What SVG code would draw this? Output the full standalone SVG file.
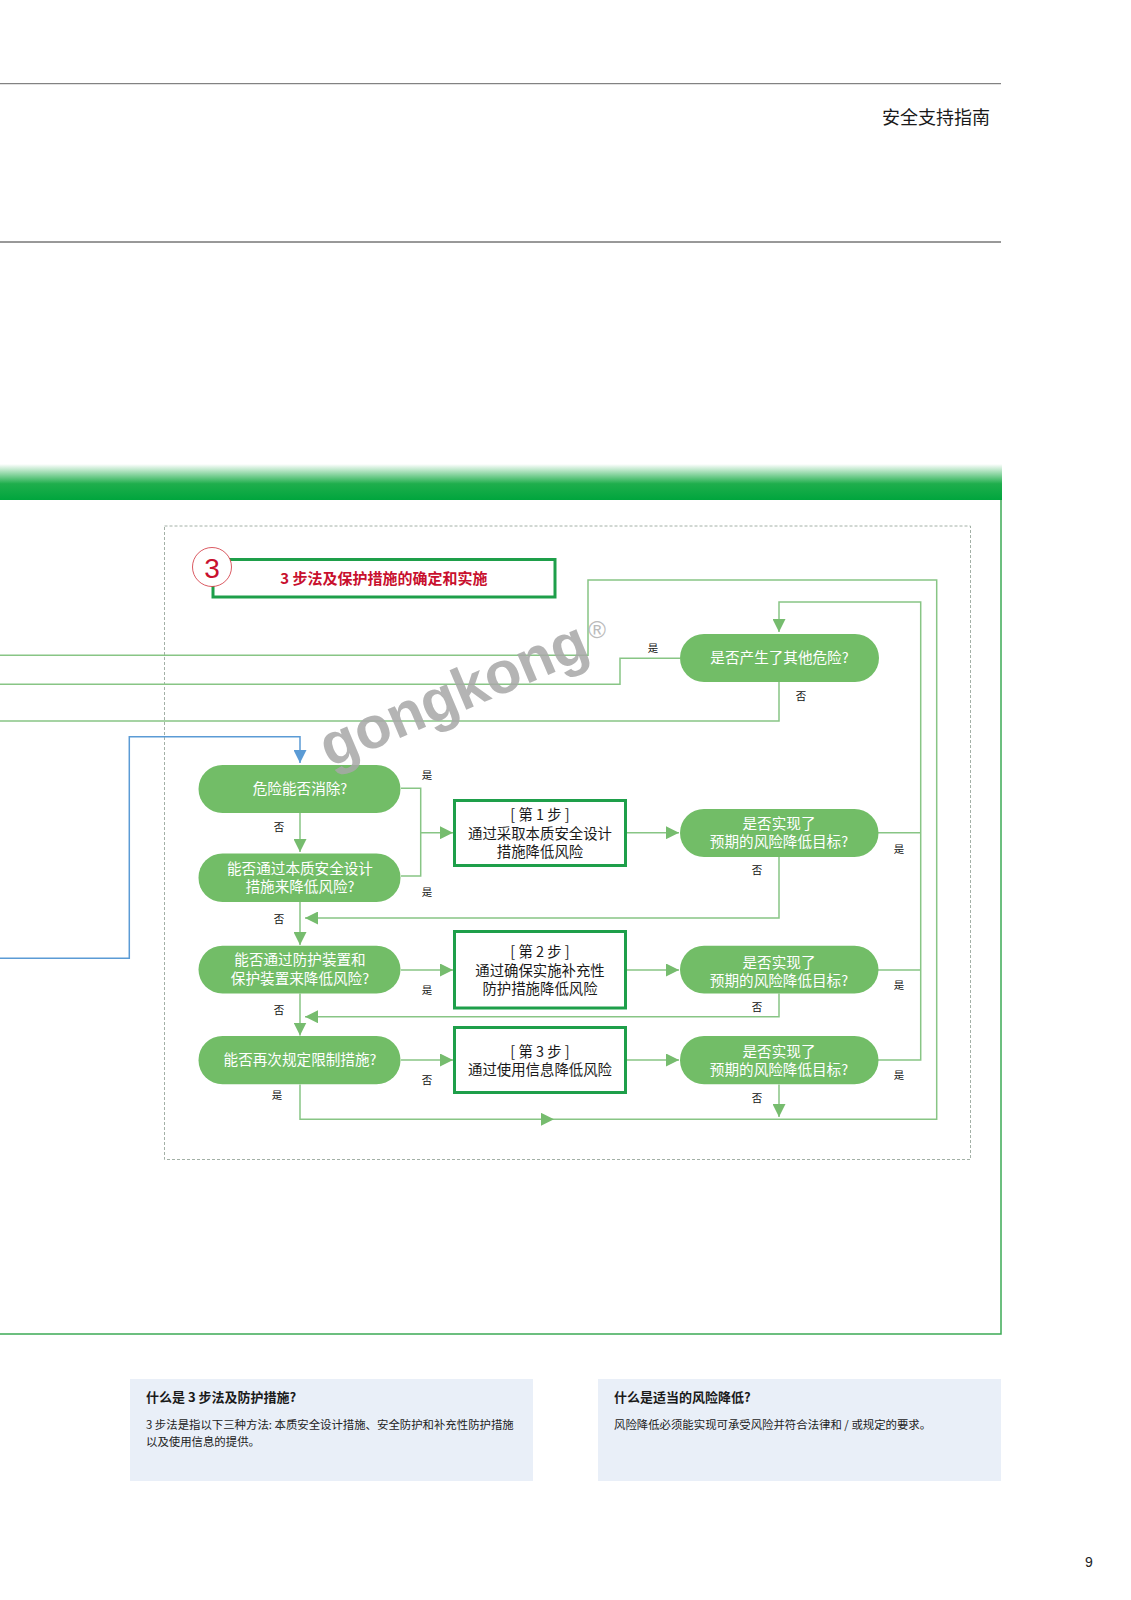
<svg xmlns="http://www.w3.org/2000/svg" width="1131" height="1600" viewBox="0 0 1131 1600">
<style>
.conn{fill:none;stroke:#88C585;stroke-width:1.5}
.blue{fill:none;stroke:#5B9BD5;stroke-width:1.5}
.pill{fill:#72BD67}
.box{fill:#fff;stroke:#1E9F4A;stroke-width:3}
.pt{font-family:"Noto Sans CJK SC","Noto Sans",sans-serif;font-size:14.6px;fill:#fff;text-anchor:middle}
.bt{font-family:"Noto Sans CJK SC","Noto Sans",sans-serif;font-size:14.4px;fill:#1a1a1a;text-anchor:middle}
.lbl{font-family:"Noto Sans CJK SC",sans-serif;font-size:10.5px;fill:#111;text-anchor:middle}
.info{fill:#E9EFF8}
.it{font-family:"Noto Sans CJK SC",sans-serif;font-size:13px;font-weight:bold;fill:#1a1a1a}
.ib{font-family:"Noto Sans CJK SC",sans-serif;font-size:11.4px;fill:#222}
</style>
<defs>
<linearGradient id="band" x1="0" y1="0" x2="0" y2="1">
<stop offset="0" stop-color="#ffffff"/>
<stop offset="0.55" stop-color="#1FAE4C"/>
<stop offset="1" stop-color="#00A53D"/>
</linearGradient>
<marker id="ah" markerUnits="userSpaceOnUse" markerWidth="13" markerHeight="13" refX="13" refY="6.5" orient="auto">
<path d="M0,0 L13,6.5 L0,13 z" fill="#76BC6E"/>
</marker>
<marker id="ahb" markerUnits="userSpaceOnUse" markerWidth="13" markerHeight="13" refX="13" refY="6.5" orient="auto">
<path d="M0,0 L13,6.5 L0,13 z" fill="#5B9BD5"/>
</marker>
</defs>
<rect width="1131" height="1600" fill="#fff"/>
<g id="page">
<line x1="0" y1="83.7" x2="1001" y2="83.7" stroke="#666" stroke-width="1"/>
<line x1="0" y1="242" x2="1001" y2="242" stroke="#333" stroke-width="1"/>
<text x="882" y="124" font-family="Noto Sans CJK SC,sans-serif" font-size="18" fill="#1a1a1a">安全支持指南</text>
<rect x="0" y="464" width="1002" height="36" fill="url(#band)"/>
<polyline points="1001,500 1001,1334 0,1334" fill="none" stroke="#3DAA55" stroke-width="1.5"/>
<rect x="164.5" y="526" width="806" height="633.5" fill="none" stroke="#A3B0A6" stroke-width="1" stroke-dasharray="3,2"/>
<text x="1089" y="1567" font-family="Liberation Sans,Arial,sans-serif" font-size="14" fill="#222" text-anchor="middle">9</text>
</g>
<g id="title">
<rect x="213" y="559.5" width="342" height="37.5" fill="#fff" stroke="#1E9F4A" stroke-width="3"/>
<circle cx="212" cy="567" r="19.5" fill="#fff" stroke="#D0303A" stroke-width="0.8"/>
<text x="212" y="577.5" font-family="Liberation Sans,Arial,sans-serif" font-size="28" fill="#C8102E" text-anchor="middle">3</text>
<text x="384" y="584" font-family="Noto Sans CJK SC,sans-serif" font-size="15" font-weight="bold" fill="#C8102E" text-anchor="middle">3 步法及保护措施的确定和实施</text>
</g>
<g id="connectors">
<path class="conn" d="M300,1084.5 V1119.3 H554" marker-end="url(#ah)"/>
<path class="conn" d="M554,1119.3 H936.7 V580 H588 V655.3 H0"/>
<path class="conn" d="M779,1084.5 V1117" marker-end="url(#ah)"/>
<path class="conn" d="M680,658.3 H620 V684.3 H0"/>
<path class="conn" d="M779,682 V721 H0"/>
<path class="conn" d="M878,832.7 H920.7 M878,970 H920.7"/>
<path class="conn" d="M878,1060 H920.7 V602 H779 V632" marker-end="url(#ah)"/>
<path class="blue" d="M0,958.3 H129.3 V736.7 H300 V763" marker-end="url(#ahb)"/>
<path class="conn" d="M300,813 V852" marker-end="url(#ah)"/>
<path class="conn" d="M401,788.3 H420.7 V876 H401"/>
<path class="conn" d="M420.7,832.7 H453" marker-end="url(#ah)"/>
<path class="conn" d="M627,832.7 H679" marker-end="url(#ah)"/>
<path class="conn" d="M779,857 V918 H305" marker-end="url(#ah)"/>
<path class="conn" d="M300,902 V945" marker-end="url(#ah)"/>
<path class="conn" d="M401,970 H453" marker-end="url(#ah)"/>
<path class="conn" d="M627,970 H679" marker-end="url(#ah)"/>
<path class="conn" d="M779,993.5 V1016.7 H305" marker-end="url(#ah)"/>
<path class="conn" d="M300,993.5 V1035.5" marker-end="url(#ah)"/>
<path class="conn" d="M401,1060 H453" marker-end="url(#ah)"/>
<path class="conn" d="M627,1060 H679" marker-end="url(#ah)"/>
<text class="lbl" x="653" y="652">是</text>
<text class="lbl" x="801" y="700">否</text>
<text class="lbl" x="427" y="779">是</text>
<text class="lbl" x="427" y="896">是</text>
<text class="lbl" x="279" y="831">否</text>
<text class="lbl" x="279" y="923">否</text>
<text class="lbl" x="899" y="853">是</text>
<text class="lbl" x="757" y="874">否</text>
<text class="lbl" x="427" y="994">是</text>
<text class="lbl" x="279" y="1014">否</text>
<text class="lbl" x="899" y="989">是</text>
<text class="lbl" x="757" y="1011">否</text>
<text class="lbl" x="427" y="1084">否</text>
<text class="lbl" x="277" y="1099">是</text>
<text class="lbl" x="899" y="1079">是</text>
<text class="lbl" x="757" y="1101.5">否</text>
</g>
<g id="n-other">
<rect class="pill" x="680" y="634" width="199" height="48" rx="24"/>
<text class="pt" x="779.5" y="663">是否产生了其他危险?</text>
</g>
<g id="n-eliminate">
<rect class="pill" x="198.5" y="765" width="202" height="48" rx="24"/>
<text class="pt" x="300" y="794">危险能否消除?</text>
</g>
<g id="n-inherent">
<rect class="pill" x="198.5" y="853.5" width="202" height="48.5" rx="24"/>
<text class="pt" x="300" y="873.6">能否通过本质安全设计</text>
<text class="pt" x="300" y="892">措施来降低风险?</text>
</g>
<g id="n-guard">
<rect class="pill" x="198.5" y="945.7" width="202" height="47.8" rx="24"/>
<text class="pt" x="300" y="965.3">能否通过防护装置和</text>
<text class="pt" x="300" y="983.6">保护装置来降低风险?</text>
</g>
<g id="n-limit">
<rect class="pill" x="198.5" y="1036" width="202" height="48.3" rx="24"/>
<text class="pt" x="300" y="1065.3">能否再次规定限制措施?</text>
</g>
<g id="step1">
<rect class="box" x="454.5" y="800.5" width="171" height="65"/>
<text class="bt" x="540" y="820.3">[ 第 1 步 ]</text>
<text class="bt" x="540" y="838.6">通过采取本质安全设计</text>
<text class="bt" x="540" y="856.9">措施降低风险</text>
</g>
<g id="step2">
<rect class="box" x="454.5" y="931.5" width="171" height="76.5"/>
<text class="bt" x="540" y="957.3">[ 第 2 步 ]</text>
<text class="bt" x="540" y="975.8">通过确保实施补充性</text>
<text class="bt" x="540" y="994.3">防护措施降低风险</text>
</g>
<g id="step3">
<rect class="box" x="454.5" y="1027.5" width="171" height="65"/>
<text class="bt" x="540" y="1056.7">[ 第 3 步 ]</text>
<text class="bt" x="540" y="1075.3">通过使用信息降低风险</text>
</g>
<g id="check1">
<rect class="pill" x="680" y="809" width="198.5" height="48" rx="24"/>
<text class="pt" x="779" y="828.6">是否实现了</text>
<text class="pt" x="779" y="847">预期的风险降低目标?</text>
</g>
<g id="check2">
<rect class="pill" x="680" y="945.7" width="198.5" height="47.8" rx="24"/>
<text class="pt" x="779" y="968">是否实现了</text>
<text class="pt" x="779" y="986.3">预期的风险降低目标?</text>
</g>
<g id="check3">
<rect class="pill" x="680" y="1036" width="198.5" height="48.3" rx="24"/>
<text class="pt" x="779" y="1057">是否实现了</text>
<text class="pt" x="779" y="1075.3">预期的风险降低目标?</text>
</g>
<g id="info-left">
<rect class="info" x="130" y="1379" width="403" height="102"/>
<text class="it" x="146" y="1402">什么是 3 步法及防护措施?</text>
<text class="ib" x="146" y="1429">3 步法是指以下三种方法: 本质安全设计措施、安全防护和补充性防护措施</text>
<text class="ib" x="146" y="1446">以及使用信息的提供。</text>
</g>
<g id="info-right">
<rect class="info" x="598" y="1379" width="403" height="102"/>
<text class="it" x="614" y="1402">什么是适当的风险降低?</text>
<text class="ib" x="614" y="1429">风险降低必须能实现可承受风险并符合法律和 / 或规定的要求。</text>
</g>
<g id="watermark" opacity="0.85">
<text x="0" y="0" transform="translate(461,712) rotate(-23)" font-family="Liberation Sans,Arial,sans-serif" font-weight="bold" font-size="59" fill="#A8A8A8" text-anchor="middle">gongkong</text>
<text x="597" y="638" font-family="Liberation Sans,Arial,sans-serif" font-size="24" fill="#B0B0B0" text-anchor="middle">®</text>
</g>
</svg>
